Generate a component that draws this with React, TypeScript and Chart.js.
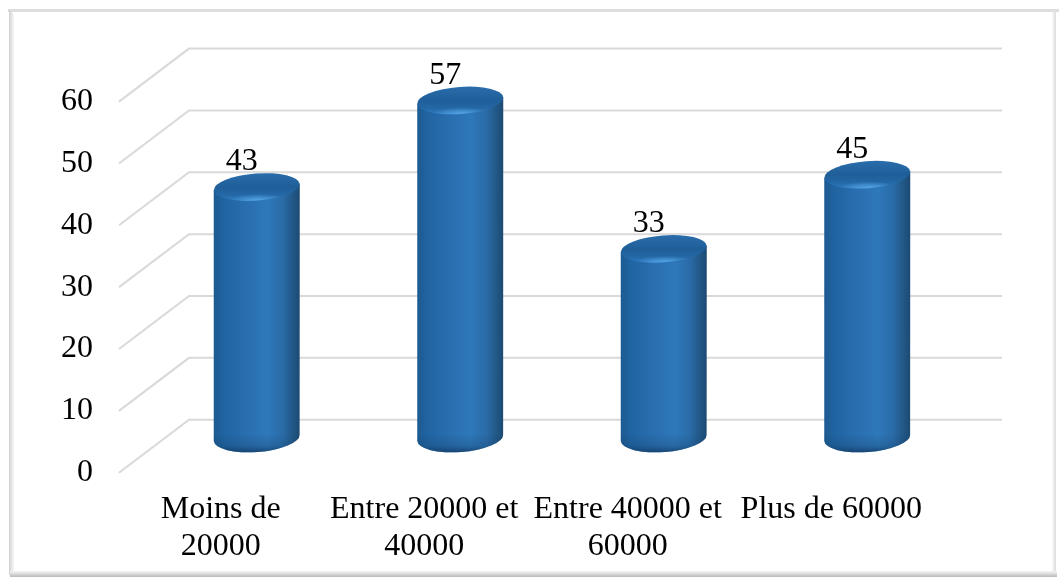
import React, { useEffect, useRef } from "react";
import { Chart, registerables, Plugin } from "chart.js";

Chart.register(...registerables);

const categories = [
  ["Moins de", "20000"],
  ["Entre 20000 et", "40000"],
  ["Entre 40000 et", "60000"],
  ["Plus de 60000"],
];
const counts = [43, 57, 33, 45];
const axisTicks = [0, 10, 20, 30, 40, 50, 60];

const FONT = '"Liberation Serif", "Times New Roman", serif';
const GRID = "#d9d9d9";

// Offset from the front of the floor to the back wall.
const WALL_DX = 70;
const WALL_DY = 53;
const WALL_RIGHT = 1002;
// Where a cylinder's axis sits relative to the front plane.
const BAR_DX = 36;
const BAR_DY = 19.7;
const FLOOR_LIFT = 15;

const framePlugin: Plugin<"bar"> = {
  id: "frame",
  beforeDraw(chart) {
    const { ctx, width, height } = chart;
    ctx.save();
    ctx.fillStyle = "#ffffff";
    ctx.fillRect(0, 0, width, height);
    const shades = ["#d4d4d4", "#dcdcdc", "#e4e4e4", "#ececec", "#f4f4f4"];
    // Top edge
    ctx.fillStyle = "#dedede";
    ctx.fillRect(8, 9, width - 8, 3);
    // Left edge, fading inwards
    shades.forEach((c, i) => {
      ctx.fillStyle = c;
      ctx.fillRect(9 + i, 10 + i, 1, height - 14 - i);
    });
    // Right edge
    ["#f6f6f6", "#eeeeee", "#e6e6e6", "#e0e0e0"].forEach((c, i) => {
      ctx.fillStyle = c;
      ctx.fillRect(1052 + i, 12, 1, height - 14);
    });
    // Bottom edge
    ["#f0f0f0", "#e8e8e8", "#dedede", "#d4d4d4", "#c8c8c8", "#c0c0c0"].forEach((c, i) => {
      ctx.fillStyle = c;
      ctx.fillRect(10, 571 + i, width - 12, 1);
    });
    ctx.restore();
  },
};

const wallPlugin: Plugin<"bar"> = {
  id: "wall",
  beforeDatasetsDraw(chart) {
    const { ctx, chartArea } = chart;
    const y = chart.scales.y;
    ctx.save();
    ctx.strokeStyle = GRID;
    ctx.lineWidth = 2;
    (y.ticks as { value: number }[]).forEach((t) => {
      const py = y.getPixelForValue(t.value);
      ctx.beginPath();
      ctx.moveTo(chartArea.left, py);
      ctx.lineTo(chartArea.left + WALL_DX, py - WALL_DY);
      ctx.lineTo(WALL_RIGHT, py - WALL_DY);
      ctx.stroke();
    });
    ctx.restore();
  },
};

const cylinderPlugin: Plugin<"bar"> = {
  id: "cylinder",
  afterDatasetsDraw(chart) {
    const { ctx } = chart;
    const meta = chart.getDatasetMeta(0);
    const tilt = -0.075;
    const ry = 13.5;
    meta.data.forEach((el, i) => {
      const { x, y, base, width } = el.getProps(["x", "y", "base", "width"], true) as {
        x: number; y: number; base: number; width: number;
      };
      const cx = x + BAR_DX;
      const rx = width / 2;
      const top = y - BAR_DY;
      const bottom = base - BAR_DY - FLOOR_LIFT;
      const rise = Math.sin(tilt) * rx;

      const side = ctx.createLinearGradient(cx - rx, 0, cx + rx, 0);
      side.addColorStop(0, "#1d5a90");
      side.addColorStop(0.12, "#2064a2");
      side.addColorStop(0.4, "#2a6fb0");
      side.addColorStop(0.62, "#2e78ba");
      side.addColorStop(0.8, "#2a6ca8");
      side.addColorStop(0.93, "#215684");
      side.addColorStop(1, "#1c4a72");

      ctx.save();
      // Wall of the cylinder, closed by the lower half of the base ellipse
      ctx.beginPath();
      ctx.moveTo(cx - rx, top - rise);
      ctx.lineTo(cx - rx, bottom - rise);
      ctx.ellipse(cx, bottom, rx, ry + 0.5, tilt, Math.PI, 0, true);
      ctx.lineTo(cx + rx, top + rise);
      ctx.closePath();
      ctx.fillStyle = side;
      ctx.fill();

      // Soft shading towards the foot
      ctx.save();
      ctx.clip();
      const foot = ctx.createLinearGradient(0, bottom - 4, 0, bottom + ry + 2);
      foot.addColorStop(0, "rgba(18,60,100,0)");
      foot.addColorStop(0.6, "rgba(18,60,100,0.25)");
      foot.addColorStop(1, "rgba(18,55,95,0.85)");
      ctx.fillStyle = foot;
      ctx.fillRect(cx - rx - 1, bottom - 4, width + 2, ry + 8);
      ctx.restore();

      // Lid
      ctx.beginPath();
      ctx.ellipse(cx, top, rx, ry, tilt, 0, Math.PI * 2);
      const lid = ctx.createLinearGradient(cx, top - ry, cx, top + ry);
      lid.addColorStop(0, "#2a6dab");
      lid.addColorStop(0.5, "#1f5e98");
      lid.addColorStop(0.8, "#2468a6");
      lid.addColorStop(1, "#2f7cc0");
      ctx.fillStyle = lid;
      ctx.fill();

      // Highlight on the near rim of the lid
      ctx.clip();
      const glow = ctx.createRadialGradient(cx + 2, top + ry, 0, cx + 2, top + ry, rx * 0.7);
      glow.addColorStop(0, "rgba(90,170,235,0.9)");
      glow.addColorStop(1, "rgba(90,170,235,0)");
      ctx.save();
      ctx.translate(0, top + ry);
      ctx.scale(1, 0.22);
      ctx.translate(0, -(top + ry));
      ctx.fillStyle = glow;
      ctx.fillRect(cx - rx, top - 60, width, 160);
      ctx.restore();
      ctx.restore();

      // Value above the lid
      ctx.save();
      ctx.fillStyle = "#000000";
      ctx.font = `32px ${FONT}`;
      ctx.textAlign = "center";
      ctx.textBaseline = "middle";
      ctx.fillText(String(counts[i]), cx - 15, top - 25);
      ctx.restore();
    });
  },
};

export default function App() {
  const ref = useRef<HTMLCanvasElement>(null);

  useEffect(() => {
    if (!ref.current) return;
    const chart = new Chart(ref.current, {
      type: "bar",
      data: {
        labels: categories,
        datasets: [
          {
            data: counts,
            backgroundColor: "transparent",
            borderWidth: 0,
            barThickness: 86,
          },
        ],
      },
      options: {
        responsive: false,
        animation: false,
        layout: { padding: { left: 0, top: 101.6, right: 1059 - 933, bottom: 0 } },
        plugins: { legend: { display: false }, tooltip: { enabled: false } },
        scales: {
          x: {
            grid: { display: false, drawTicks: false },
            border: { display: false },
            afterFit(scale) {
              scale.height = 579 - 472.7;
            },
            ticks: {
              autoSkip: false,
              maxRotation: 0,
              minRotation: 0,
              padding: 18,
              color: "#000000",
              font: { family: FONT, size: 32, lineHeight: 1.16 },
            },
          },
          y: {
            min: axisTicks[0],
            max: axisTicks[axisTicks.length - 1],
            afterBuildTicks(scale) {
              scale.ticks = axisTicks.map((value) => ({ value }));
            },
            afterFit(scale) {
              scale.width = 119;
            },
            grid: { display: false, drawTicks: false },
            border: { display: false },
            ticks: {
              padding: 26,
              color: "#000000",
              font: { family: FONT, size: 32 },
            },
          },
        },
      },
      plugins: [framePlugin, wallPlugin, cylinderPlugin],
    });
    return () => chart.destroy();
  }, []);

  return (
    <div style={{ position: "absolute", left: 0, top: 0 }}>
      <canvas ref={ref} width={1059} height={579} style={{ display: "block" }} />
    </div>
  );
}
